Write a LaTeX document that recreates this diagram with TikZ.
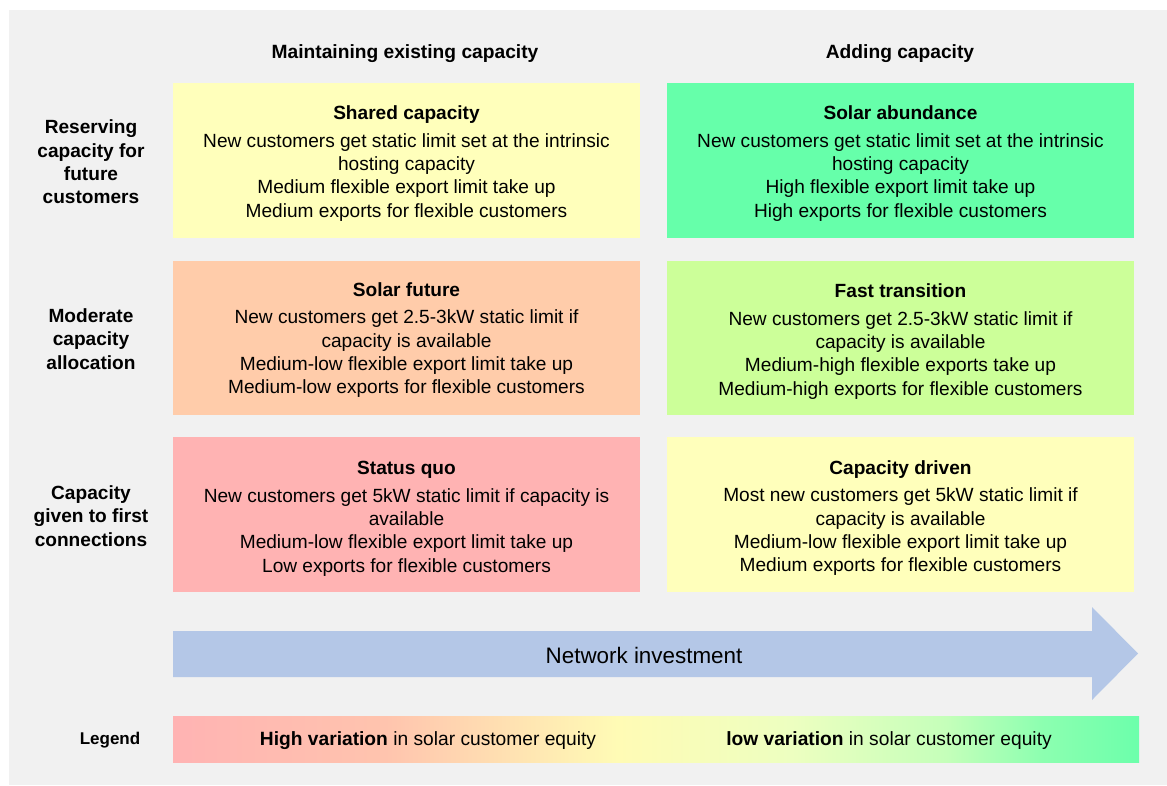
\documentclass[tikz,border=0pt]{standalone}
\usepackage{fontspec}
\setmainfont{Liberation Sans}
\definecolor{bggray}{HTML}{F1F1F1}
\definecolor{cyellow}{HTML}{FFFFBB}
\definecolor{cgreen}{HTML}{66FFAA}
\definecolor{cpeach}{HTML}{FFCCAA}
\definecolor{clime}{HTML}{CCFF99}
\definecolor{cpink}{HTML}{FFB3B3}
\definecolor{carrow}{HTML}{B4C7E7}
\definecolor{lgA}{HTML}{FFB3B3}
\definecolor{lgB}{HTML}{FFC4AE}
\definecolor{lgC}{HTML}{FFFBB5}
\definecolor{lgD}{HTML}{EDFFC0}
\definecolor{lgE}{HTML}{C5FFBA}
\definecolor{lgF}{HTML}{8CFFB0}
\definecolor{lgG}{HTML}{6CFFAB}
\pgfdeclarehorizontalshading{legendshade}{100bp}{color(0bp)=(lgA); color(25bp)=(lgA); color(36bp)=(lgB); color(48bp)=(lgC); color(57bp)=(lgD); color(65bp)=(lgE); color(70bp)=(lgF); color(75bp)=(lgG); color(100bp)=(lgG)}
\tikzset{
  cell/.style={minimum width=467pt, minimum height=155pt, inner sep=0pt, align=center, font=\fontsize{19.1}{23.3}\selectfont},
  celltext/.style={align=center, inner sep=0pt, font=\fontsize{19.1}{23.3}\selectfont},
  rowlabel/.style={align=center, font=\fontsize{19.1}{23.3}\selectfont\bfseries},
  colhead/.style={font=\fontsize{19.2}{23}\selectfont\bfseries},
}
\begin{document}
\begin{tikzpicture}[x=1pt,y=-1pt]
\useasboundingbox (0,0) rectangle (1167,785);
\fill[white] (0,0) rectangle (1167,785);
\fill[bggray] (9,10) rectangle (1167,785);

\node[colhead] (h1) at (405,54) {Maintaining existing capacity};
\node[colhead] (h2) at (900,54) {Adding capacity};

\node[rowlabel] (r1) at (91,162) {Reserving\\capacity for\\future\\customers};
\node[rowlabel] (r2) at (91,339) {Moderate\\capacity\\allocation};
\node[rowlabel] (r3) at (91,516) {Capacity\\given to first\\connections};

\node[cell, fill=cyellow] (shared) at (406.5,160.5) {};
\node[celltext] (sharedt) at (406.5,163.5) {\textbf{Shared capacity}\\[4.5pt]New customers get static limit set at the intrinsic\\hosting capacity\\Medium flexible export limit take up\\Medium exports for flexible customers};
\node[cell, fill=cgreen] (abund) at (900.5,160.5) {};
\node[celltext] (abundt) at (900.5,163.5) {\textbf{Solar abundance}\\[4.5pt]New customers get static limit set at the intrinsic\\hosting capacity\\High flexible export limit take up\\High exports for flexible customers};
\node[cell, fill=cpeach, minimum height=154pt] (future) at (406.5,338) {};
\node[celltext] (futuret) at (406.5,340) {\textbf{Solar future}\\[4.5pt]New customers get 2.5-3kW static limit if\\capacity is available\\Medium-low flexible export limit take up\\Medium-low exports for flexible customers};
\node[cell, fill=clime, minimum height=154pt] (fast) at (900.5,338) {};
\node[celltext] (fastt) at (900.5,341.5) {\textbf{Fast transition}\\[4.5pt]New customers get 2.5-3kW static limit if\\capacity is available\\Medium-high flexible exports take up\\Medium-high exports for flexible customers};
\node[cell, fill=cpink] (quo) at (406.5,514.5) {};
\node[celltext] (quot) at (406.5,518.5) {\textbf{Status quo}\\[4.5pt]New customers get 5kW static limit if capacity is\\available\\Medium-low flexible export limit take up\\Low exports for flexible customers};
\node[cell, fill=cyellow] (driven) at (900.5,514.5) {};
\node[celltext] (drivent) at (900.5,518) {\textbf{Capacity driven}\\[4.5pt]Most new customers get 5kW static limit if\\capacity is available\\Medium-low flexible export limit take up\\Medium exports for flexible customers};

\fill[carrow] (173,631) -- (1092,631) -- (1092,607) -- (1138,653.5) -- (1092,700) -- (1092,677) -- (173,677) -- cycle;
\node[font=\fontsize{22.4}{26}\selectfont] (net) at (644,655) {Network investment};

\node[font=\fontsize{17}{20}\selectfont\bfseries] (leg) at (110,740) {Legend};
\shade[shading=legendshade] (173,716) rectangle (1139,762);
\node[font=\fontsize{19.2}{22}\selectfont] (hv) at (428,740.5) {\textbf{High variation} in solar customer equity};
\node[font=\fontsize{19.2}{22}\selectfont] (lv) at (889,740.5) {\textbf{low variation} in solar customer equity};
\end{tikzpicture}
\end{document}
